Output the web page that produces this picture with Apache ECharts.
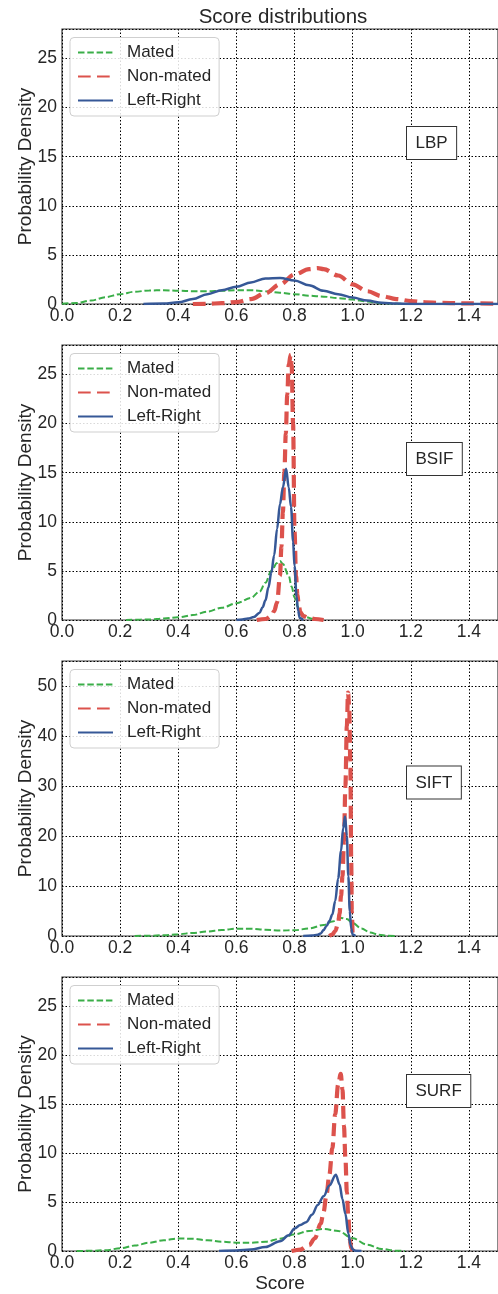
<!DOCTYPE html>
<html>
<head>
<meta charset="utf-8">
<script src="https://cdn.jsdelivr.net/npm/echarts@6/dist/echarts.min.js"></script>
<style>
html,body{margin:0;padding:0;background:#fff;}
#chart{width:498px;height:1294px;}
</style>
</head>
<body>
<div id="chart"></div>
<script>
// ---- Data (score, density) ----
const PANELS = ['LBP', 'BSIF', 'SIFT', 'SURF'];
const SERIES_NAMES = ['Mated', 'Non-mated', 'Left-Right'];
const X_TICKS = [0.0, 0.2, 0.4, 0.6, 0.8, 1.0, 1.2, 1.4];

const LBP_MATED = [[0,0.02],[0.05,0.1],[0.1,0.35],[0.15,0.7],[0.2,1.0],[0.25,1.25],[0.3,1.38],[0.35,1.4],[0.4,1.35],[0.45,1.3],[0.5,1.3],[0.55,1.35],[0.6,1.4],[0.65,1.4],[0.7,1.3],[0.75,1.15],[0.8,1.0],[0.85,0.85],[0.9,0.75],[0.95,0.6],[1.0,0.45],[1.05,0.25],[1.1,0.08],[1.15,0.02],[1.2,0.0]];
const LBP_NONMATED = [[0.45,0],[0.5,0.02],[0.55,0.08],[0.6,0.2],[0.65,0.5],[0.7,1.1],[0.75,2.0],[0.8,3.0],[0.85,3.55],[0.88,3.65],[0.9,3.55],[0.95,2.9],[1.0,2.0],[1.05,1.3],[1.1,0.8],[1.15,0.5],[1.2,0.3],[1.25,0.18],[1.3,0.12],[1.4,0.06],[1.5,0.04]];
const LBP_LEFTRIGHT = [[0.28,0],[0.35,0.05],[0.4,0.17],[0.45,0.5],[0.5,1.0],[0.55,1.4],[0.6,1.75],[0.65,2.2],[0.7,2.6],[0.75,2.65],[0.8,2.4],[0.85,1.9],[0.9,1.35],[0.95,1.0],[1.0,0.65],[1.05,0.35],[1.1,0.12],[1.15,0.04],[1.2,0.01],[1.3,0],[1.5,0]];

const BSIF_MATED = [[0.22,0],[0.3,0.05],[0.35,0.15],[0.4,0.27],[0.45,0.5],[0.5,0.85],[0.55,1.25],[0.6,1.7],[0.65,2.25],[0.68,2.9],[0.7,3.8],[0.72,5.0],[0.74,5.8],[0.75,6.0],[0.76,5.7],[0.78,4.5],[0.79,3.4],[0.8,2.3],[0.81,1.4],[0.82,0.8],[0.84,0.3],[0.86,0.12],[0.9,0.02]];
const BSIF_NONMATED = [[0.67,0],[0.7,0.1],[0.72,0.4],[0.73,0.9],[0.74,1.8],[0.75,4.5],[0.755,7.5],[0.76,11],[0.765,15],[0.77,19],[0.775,23],[0.78,26],[0.787,27.0],[0.79,26],[0.795,20],[0.8,9],[0.805,4.5],[0.81,2.5],[0.815,1.4],[0.82,0.8],[0.83,0.4],[0.85,0.2],[0.87,0.1],[0.9,0]];
const BSIF_LEFTRIGHT = [[0.6,0],[0.62,0.05],[0.64,0.15],[0.66,0.3],[0.68,0.75],[0.69,1.3],[0.7,2.0],[0.71,3.3],[0.72,4.8],[0.73,6.6],[0.74,9.3],[0.75,11.8],[0.76,13.5],[0.771,15.4],[0.78,13.5],[0.788,11.5],[0.795,8],[0.8,5.5],[0.807,2.4],[0.812,1.0],[0.818,0.2],[0.83,0]];

const SIFT_MATED = [[0.25,0],[0.3,0.05],[0.35,0.15],[0.4,0.35],[0.45,0.6],[0.5,0.9],[0.55,1.2],[0.6,1.45],[0.65,1.45],[0.7,1.25],[0.75,1.1],[0.8,1.15],[0.85,1.5],[0.9,2.2],[0.93,2.9],[0.96,3.6],[0.98,3.4],[1.0,2.6],[1.03,1.5],[1.06,0.7],[1.09,0.25],[1.12,0.05],[1.15,0]];
const SIFT_NONMATED = [[0.92,0],[0.93,0.3],[0.94,1.0],[0.95,2.5],[0.955,4.5],[0.96,8],[0.965,12],[0.97,19],[0.975,30],[0.98,42],[0.984,48.7],[0.988,46],[0.992,35],[0.995,15],[0.997,5],[1.0,0.5],[1.005,0]];
const SIFT_LEFTRIGHT = [[0.83,0],[0.86,0.1],[0.88,0.25],[0.89,0.5],[0.9,1.2],[0.91,2.0],[0.92,3.0],[0.93,4.3],[0.94,7.0],[0.95,11.5],[0.96,17],[0.967,21.5],[0.974,23.9],[0.98,20],[0.985,12],[0.99,5],[0.995,1.5],[1.0,0.3],[1.01,0]];

const SURF_MATED = [[0.05,0],[0.1,0.02],[0.15,0.08],[0.2,0.27],[0.25,0.55],[0.3,0.85],[0.35,1.1],[0.4,1.28],[0.45,1.25],[0.5,1.1],[0.55,0.95],[0.6,0.85],[0.65,0.85],[0.7,0.95],[0.75,1.25],[0.8,1.7],[0.85,2.05],[0.9,2.25],[0.95,2.05],[1.0,1.3],[1.05,0.65],[1.1,0.2],[1.15,0.03],[1.18,0]];
const SURF_NONMATED = [[0.79,0],[0.82,0.15],[0.85,0.6],[0.87,1.3],[0.89,2.8],[0.9,4.0],[0.91,5.8],[0.92,7.8],[0.93,10.5],[0.94,14],[0.95,17],[0.959,18.1],[0.965,16.5],[0.97,12.8],[0.975,9.5],[0.98,6.0],[0.985,3.5],[0.99,1.2],[0.995,0.3],[1.0,0]];
const SURF_LEFTRIGHT = [[0.54,0],[0.6,0.05],[0.65,0.15],[0.7,0.4],[0.75,1.0],[0.78,1.6],[0.8,2.3],[0.82,2.65],[0.84,2.95],[0.86,3.7],[0.88,4.7],[0.9,5.6],[0.92,6.7],[0.942,7.8],[0.955,6.8],[0.965,5.3],[0.975,3.8],[0.985,1.8],[0.993,0.6],[1.0,0.15],[1.01,0.03],[1.03,0]];

const Y_MAX = [28, 28, 55, 28];
const Y_INTERVAL = [5, 5, 10, 5];
const DATA = [
  [LBP_MATED, LBP_NONMATED, LBP_LEFTRIGHT],
  [BSIF_MATED, BSIF_NONMATED, BSIF_LEFTRIGHT],
  [SIFT_MATED, SIFT_NONMATED, SIFT_LEFTRIGHT],
  [SURF_MATED, SURF_NONMATED, SURF_LEFTRIGHT]
];

// ---- Layout / style ----
const FONT = "'Liberation Sans', Arial, Helvetica, sans-serif";
const TXT = '#262626';
const TOPS = [29, 345, 661, 977];
const H = 275;
const BOX_OFF = [97, 97, 104.5, 97];
const STYLES = [
  {color: '#3aae48', width: 2, type: [6.5, 2.8]},
  {color: '#dc524c', width: 4.2, type: [12.7, 6.3]},
  {color: '#365897', width: 2.5, type: 'solid'}
];

const grids = [], xAxes = [], yAxes = [], series = [], legends = [], graphics = [];
PANELS.forEach((p, i) => {
  grids.push({left: 62, right: -6, top: TOPS[i], height: H, show: true,
    borderColor: '#3a3a3a', borderWidth: 1.2, backgroundColor: 'transparent'});
  xAxes.push({
    type: 'value', gridIndex: i, min: 0, max: 1.5, interval: 0.2,
    axisLine: {show: false}, axisTick: {show: false},
    axisLabel: {show: true, color: TXT, fontSize: 17.5, fontFamily: FONT, margin: 3,
      showMaxLabel: false,
      formatter: v => X_TICKS.some(t => Math.abs(t - v) < 1e-6) ? v.toFixed(1) : ''},
    splitLine: {show: true, lineStyle: {color: '#000', width: 1, type: [1.5, 2]}},
    name: i === 3 ? 'Score' : '', nameLocation: 'middle', nameGap: 23, nameMoveOverlap: false,
    nameTextStyle: {color: TXT, fontSize: 19, fontFamily: FONT}
  });
  yAxes.push({
    type: 'value', gridIndex: i, min: 0, max: Y_MAX[i], interval: Y_INTERVAL[i],
    axisLine: {show: false}, axisTick: {show: false},
    axisLabel: {color: TXT, fontSize: 17.5, fontFamily: FONT, margin: 5,
      showMaxLabel: false,
      formatter: v => (v % Y_INTERVAL[i] === 0) ? String(v) : ''},
    splitLine: {show: true, lineStyle: {color: '#000', width: 1, type: [1.5, 2]}},
    name: 'Probability Density', nameLocation: 'middle', nameGap: 27, nameMoveOverlap: false,
    nameTextStyle: {color: TXT, fontSize: 19, fontFamily: FONT}
  });
  DATA[i].forEach((d, k) => {
    series.push({
      type: 'line', name: SERIES_NAMES[k], xAxisIndex: i, yAxisIndex: i,
      data: d, showSymbol: false, symbol: 'none', smooth: 0.35, smoothMonotone: 'x',
      lineStyle: {color: STYLES[k].color, width: STYLES[k].width, type: STYLES[k].type, cap: 'butt'},
      itemStyle: {color: STYLES[k].color},
      z: 2 + k, silent: true, animation: false
    });
  });
  legends.push({
    data: SERIES_NAMES, orient: 'vertical', left: 70, top: TOPS[i] + 8.5,
    itemWidth: 35, itemHeight: 14, itemGap: 0,
    padding: [3, 8, 3.5, 7],
    itemStyle: {opacity: 0, borderWidth: 0},
    backgroundColor: 'rgba(255,255,255,0.85)', borderColor: '#cfcfcf', borderWidth: 1, borderRadius: 4,
    textStyle: {color: TXT, fontSize: 17, fontFamily: FONT, lineHeight: 24, padding: [0, 0, 0, 9]},
    selectedMode: false
  });
  graphics.push({
    type: 'text', left: 406, top: TOPS[i] + BOX_OFF[i], z: 10,
    style: {text: p, fill: TXT, font: '17px ' + FONT,
      backgroundColor: '#fff', borderColor: '#333', borderWidth: 1,
      padding: [8, 8.5, 7, 8.5]}
  });
});

const chart = echarts.init(document.getElementById('chart'), null, {renderer: 'canvas'});
chart.setOption({
  animation: false,
  backgroundColor: '#fff',
  title: {text: 'Score distributions', left: 283, top: 7, textAlign: 'center', padding: 0,
    textStyle: {color: TXT, fontSize: 20.5, fontWeight: 'normal', fontFamily: FONT}},
  grid: grids, xAxis: xAxes, yAxis: yAxes, series: series, legend: legends,
  graphic: graphics
});
</script>
</body>
</html>
